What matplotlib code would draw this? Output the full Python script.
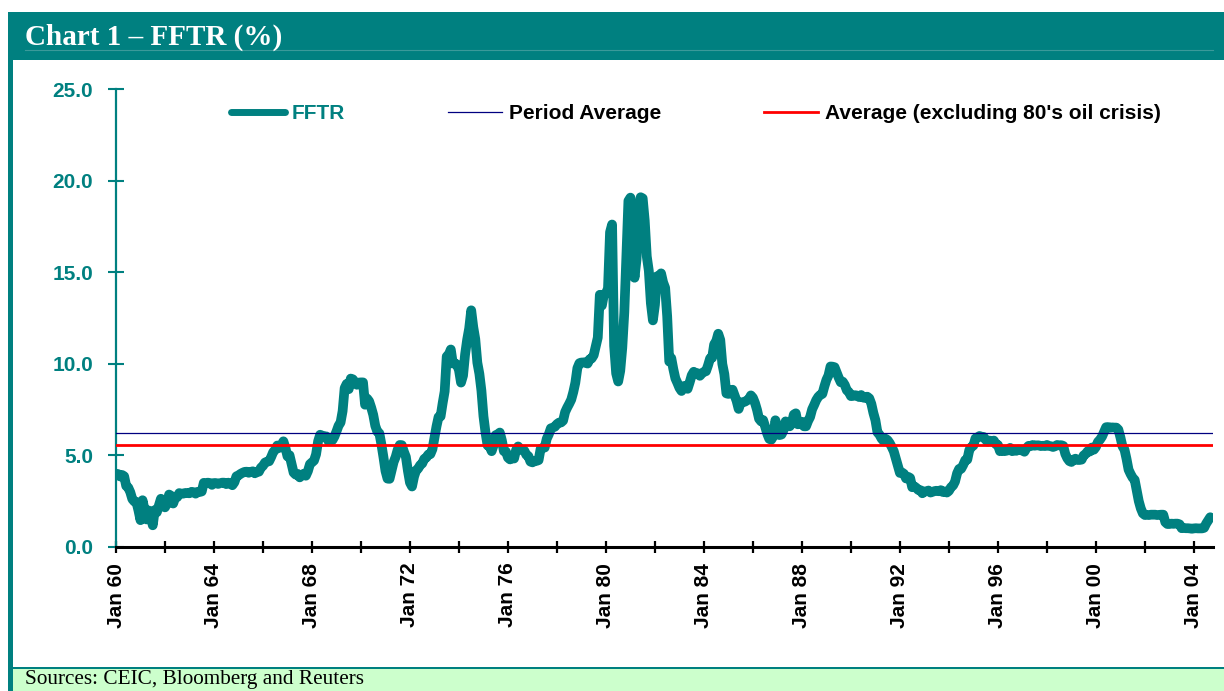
import numpy as np
import matplotlib
matplotlib.use("Agg")
import matplotlib.pyplot as plt
from matplotlib.patches import Rectangle
from matplotlib.lines import Line2D
from matplotlib.ticker import MultipleLocator

# monthly FFTR (%), Jan 1960 - Sep 2004, one row per year
fftr_by_year = {
    1960: [3.99, 3.97, 3.84, 3.92, 3.85, 3.32, 3.23, 2.98, 2.60, 2.47, 2.44, 1.98],
    1961: [1.45, 2.54, 2.02, 1.49, 1.98, 1.73, 1.17, 2.00, 1.88, 2.26, 2.62, 2.33],
    1962: [2.15, 2.37, 2.85, 2.78, 2.36, 2.68, 2.71, 2.93, 2.90, 2.90, 2.94, 2.93],
    1963: [2.92, 3.00, 2.98, 2.90, 3.00, 2.99, 3.02, 3.49, 3.48, 3.50, 3.48, 3.38],
    1964: [3.48, 3.48, 3.43, 3.47, 3.50, 3.50, 3.42, 3.50, 3.45, 3.36, 3.52, 3.85],
    1965: [3.90, 3.98, 4.04, 4.09, 4.10, 4.04, 4.09, 4.12, 4.01, 4.08, 4.10, 4.32],
    1966: [4.42, 4.60, 4.65, 4.67, 4.90, 5.17, 5.30, 5.53, 5.40, 5.53, 5.76, 5.40],
    1967: [4.94, 5.00, 4.53, 4.05, 3.94, 3.98, 3.79, 3.90, 3.99, 3.88, 4.13, 4.51],
    1968: [4.61, 4.71, 5.05, 5.76, 6.12, 6.07, 6.02, 6.03, 5.78, 5.91, 5.82, 6.02],
    1969: [6.30, 6.61, 6.79, 7.41, 8.67, 8.90, 8.61, 9.19, 9.15, 9.00, 8.85, 8.97],
    1970: [8.98, 8.98, 7.76, 8.10, 7.95, 7.61, 7.21, 6.61, 6.29, 6.20, 5.60, 4.90],
    1971: [4.14, 3.72, 3.71, 4.16, 4.63, 4.91, 5.31, 5.56, 5.55, 5.20, 4.91, 4.14],
    1972: [3.50, 3.29, 3.83, 4.17, 4.27, 4.46, 4.55, 4.80, 4.87, 5.04, 5.06, 5.33],
    1973: [5.94, 6.58, 7.09, 7.12, 7.84, 8.49, 10.40, 10.50, 10.78, 10.01, 10.03, 9.95],
    1974: [9.65, 8.97, 9.35, 10.51, 11.31, 11.93, 12.92, 12.01, 11.34, 10.06, 9.45, 8.53],
    1975: [7.13, 6.24, 5.54, 5.49, 5.22, 5.55, 6.10, 6.14, 6.24, 5.82, 5.22, 5.20],
    1976: [4.87, 4.77, 4.84, 4.82, 5.29, 5.48, 5.31, 5.29, 5.25, 5.02, 4.95, 4.65],
    1977: [4.61, 4.68, 4.69, 4.73, 5.35, 5.39, 5.42, 5.90, 6.14, 6.47, 6.51, 6.56],
    1978: [6.70, 6.78, 6.79, 6.89, 7.36, 7.60, 7.81, 8.04, 8.45, 8.96, 9.76, 10.03],
    1979: [10.07, 10.06, 10.09, 10.01, 10.24, 10.29, 10.47, 10.94, 11.43, 13.77, 13.18, 13.78],
    1980: [13.82, 14.13, 17.19, 17.61, 10.98, 9.47, 9.03, 9.61, 10.87, 12.81, 15.85, 18.90],
    1981: [19.08, 15.93, 14.70, 15.72, 18.52, 19.10, 19.04, 17.82, 15.87, 15.08, 13.31, 12.37],
    1982: [13.22, 14.78, 14.68, 14.94, 14.45, 14.15, 12.59, 10.12, 10.31, 9.71, 9.20, 8.95],
    1983: [8.68, 8.51, 8.77, 8.80, 8.63, 8.98, 9.37, 9.56, 9.45, 9.48, 9.34, 9.47],
    1984: [9.56, 9.59, 9.91, 10.29, 10.32, 11.06, 11.23, 11.64, 11.30, 9.99, 9.43, 8.38],
    1985: [8.35, 8.50, 8.58, 8.27, 7.97, 7.53, 7.88, 7.90, 7.92, 7.99, 8.05, 8.27],
    1986: [8.14, 7.86, 7.48, 6.99, 6.85, 6.92, 6.56, 6.17, 5.89, 5.85, 6.04, 6.91],
    1987: [6.43, 6.10, 6.13, 6.37, 6.85, 6.73, 6.58, 6.73, 7.22, 7.29, 6.69, 6.77],
    1988: [6.83, 6.58, 6.58, 6.87, 7.09, 7.51, 7.75, 8.01, 8.19, 8.30, 8.35, 8.76],
    1989: [9.12, 9.36, 9.85, 9.84, 9.81, 9.53, 9.24, 8.99, 9.02, 8.84, 8.55, 8.45],
    1990: [8.23, 8.24, 8.28, 8.26, 8.18, 8.29, 8.15, 8.13, 8.20, 8.11, 7.81, 7.31],
    1991: [6.91, 6.25, 6.12, 5.91, 5.78, 5.90, 5.82, 5.66, 5.45, 5.21, 4.81, 4.43],
    1992: [4.03, 4.06, 3.98, 3.73, 3.82, 3.76, 3.25, 3.30, 3.22, 3.10, 3.09, 2.92],
    1993: [3.02, 3.03, 3.07, 2.96, 3.00, 3.04, 3.06, 3.03, 3.09, 2.99, 3.02, 2.96],
    1994: [3.05, 3.25, 3.34, 3.56, 4.01, 4.25, 4.26, 4.47, 4.73, 4.76, 5.29, 5.45],
    1995: [5.53, 5.92, 5.98, 6.05, 6.01, 6.00, 5.85, 5.74, 5.80, 5.76, 5.80, 5.60],
    1996: [5.56, 5.22, 5.31, 5.22, 5.24, 5.27, 5.40, 5.22, 5.30, 5.24, 5.31, 5.29],
    1997: [5.25, 5.19, 5.39, 5.51, 5.50, 5.56, 5.52, 5.54, 5.54, 5.50, 5.52, 5.50],
    1998: [5.56, 5.51, 5.49, 5.45, 5.49, 5.56, 5.54, 5.55, 5.51, 5.07, 4.83, 4.68],
    1999: [4.63, 4.76, 4.81, 4.74, 4.74, 4.76, 4.99, 5.07, 5.22, 5.20, 5.42, 5.30],
    2000: [5.45, 5.73, 5.85, 6.02, 6.27, 6.53, 6.54, 6.50, 6.52, 6.51, 6.51, 6.40],
    2001: [5.98, 5.49, 5.31, 4.80, 4.21, 3.97, 3.77, 3.65, 3.07, 2.49, 2.09, 1.82],
    2002: [1.73, 1.74, 1.73, 1.75, 1.75, 1.75, 1.73, 1.74, 1.75, 1.75, 1.34, 1.24],
    2003: [1.24, 1.26, 1.25, 1.26, 1.26, 1.22, 1.01, 1.03, 1.01, 1.01, 1.00, 0.98],
    2004: [1.00, 1.01, 1.00, 1.00, 1.00, 1.03, 1.26, 1.43, 1.61],
}

period_average = 6.2
average_ex_oil = 5.56

tick_years = list(range(1960, 2005, 4))
tick_labels = [f"Jan {y % 100:02d}" for y in tick_years]

title = "Chart 1 \u2013 FFTR (%)"
source = "Sources: CEIC, Bloomberg and Reuters"

TEAL = "#008080"
NAVY = "#000080"

fftr = np.concatenate([fftr_by_year[y] for y in sorted(fftr_by_year)])
dates = 1960 + np.arange(len(fftr)) / 12.0

W, H = 1224, 691
fig = plt.figure(figsize=(W / 100, H / 100), dpi=100)

# frame drawn in pixel space on a background axes
bg = fig.add_axes([0, 0, 1, 1], zorder=0)
bg.set_xlim(0, W)
bg.set_ylim(H, 0)
bg.axis("off")
bg.add_patch(Rectangle((8, 12), W - 8, 48, color=TEAL, lw=0))
bg.plot([25, 1213], [50, 50], color="#3a9a9a", lw=0.8)
bg.add_patch(Rectangle((8, 12), 4.5, H - 12, color=TEAL, lw=0))
bg.add_patch(Rectangle((12.5, 669), W - 12.5, H - 669, color="#CCFFCC", lw=0))
bg.add_patch(Rectangle((12.5, 666.5), W - 12.5, 2.5, color=TEAL, lw=0))
bg.text(25, 37, title, color="white", fontsize=21, fontweight="bold",
        family="Liberation Serif", va="center", ha="left")
bg.text(25, 689, source, color="black", fontsize=15.3,
        family="Liberation Serif", va="bottom", ha="left")

ax = fig.add_axes([116 / W, 1 - 546.7 / H, (1213 - 116) / W, (546.7 - 89.3) / H], zorder=1)
ax.patch.set_alpha(0)

ax.plot(dates, fftr, color=TEAL, lw=7, solid_capstyle="round",
        solid_joinstyle="round", zorder=2)
ax.axhline(period_average, color=NAVY, lw=0.9, zorder=3)
ax.axhline(average_ex_oil, color="red", lw=2, zorder=3)

ax.set_xlim(1960, 2004.78)
ax.set_ylim(0, 25)

ax.yaxis.set_major_locator(MultipleLocator(5))
ax.set_yticklabels([f"{v:.1f}" for v in ax.get_yticks()])
ax.set_xticks(tick_years)
ax.set_xticklabels(tick_labels, rotation=90)
ax.xaxis.set_minor_locator(MultipleLocator(2))

for s in ["top", "right"]:
    ax.spines[s].set_visible(False)
ax.spines["left"].set_color(TEAL)
ax.spines["left"].set_linewidth(1.6)
ax.spines["bottom"].set_color("black")
ax.spines["bottom"].set_linewidth(2.2)
ax.spines["bottom"].set_zorder(4)

ax.tick_params(axis="y", direction="inout", length=11, width=1.5, color=TEAL,
               labelcolor=TEAL, labelsize=15, pad=11)
ax.tick_params(axis="x", which="both", direction="inout", length=9, width=1.6,
               color="black", labelcolor="black", labelsize=15, pad=7)
for lab in ax.get_yticklabels() + ax.get_xticklabels():
    lab.set_fontweight("bold")
    lab.set_family("Liberation Sans")

handles = [
    Line2D([], [], color=TEAL, lw=5, solid_capstyle="round"),
    Line2D([], [], color=NAVY, lw=0.9),
    Line2D([], [], color="red", lw=2),
]
names = ["FFTR", "Period Average", "Average (excluding 80's oil crisis)"]
leg = ax.legend(handles, names, loc="center left", bbox_to_anchor=(0.1044, 0.946),
                ncol=3, frameon=False, borderpad=0, borderaxespad=0,
                handlelength=2.6, handletextpad=0.32, columnspacing=4.95,
                prop={"family": "Liberation Sans", "weight": "bold", "size": 15})
leg.get_texts()[0].set_color(TEAL)

fig.savefig("out.png", dpi=100)
